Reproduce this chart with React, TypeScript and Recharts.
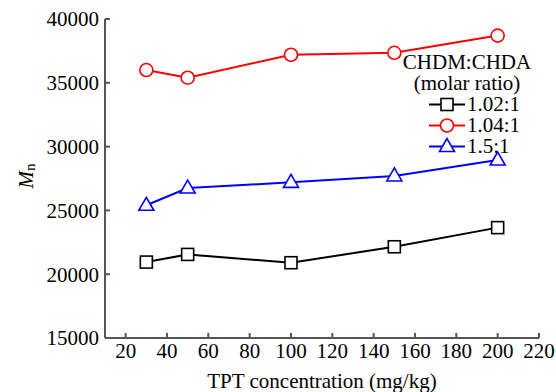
import { Label, Line, LineChart, XAxis, YAxis } from "recharts";

const FONT = "Liberation Serif, Times New Roman, serif";

const concentrations = [30, 50, 100, 150, 200];
const mn102 = [20950, 21550, 20900, 22150, 23650];
const mn104 = [36000, 35400, 37200, 37350, 38700];
const mn15 = [25400, 26750, 27200, 27700, 28950];
const xTicks = [20, 40, 60, 80, 100, 120, 140, 160, 180, 200, 220];
const yTicks = [15000, 20000, 25000, 30000, 35000, 40000];

const data = concentrations.map((c, i) => ({
  c,
  r102: mn102[i],
  r104: mn104[i],
  r15: mn15[i],
}));

const series = [
  { key: "r102", name: "1.02:1", color: "#000000", marker: "square" },
  { key: "r104", name: "1.04:1", color: "#ff0000", marker: "circle" },
  { key: "r15", name: "1.5:1", color: "#0000ff", marker: "triangle" },
];

const AXIS = "#555";

function Marker({ cx, cy, kind, color }: { cx: number; cy: number; kind: string; color: string }) {
  if (kind === "square") {
    return <rect x={cx - 6} y={cy - 6} width={12} height={12} fill="#fff" stroke={color} strokeWidth={1.6} />;
  }
  if (kind === "triangle") {
    return (
      <polygon
        points={`${cx},${cy - 8} ${cx - 7.5},${cy + 5} ${cx + 7.5},${cy + 5}`}
        fill="#fff"
        stroke={color}
        strokeWidth={1.6}
      />
    );
  }
  return <circle cx={cx} cy={cy} r={6.5} fill="#fff" stroke={color} strokeWidth={1.6} />;
}

// legend sits inside the plot, top right, drawn over the chart
function LegendBox() {
  return (
    <div
      style={{
        position: "absolute",
        left: 401,
        top: 52,
        fontFamily: FONT,
        fontSize: 21,
        color: "#000",
        lineHeight: "21px",
      }}
    >
      <div style={{ textAlign: "center", width: 132 }}>CHDM:CHDA</div>
      <div style={{ textAlign: "center", width: 132 }}>(molar ratio)</div>
      {series.map((s) => (
        <div key={s.key} style={{ display: "flex", alignItems: "center", marginLeft: 28 }}>
          <svg width={36} height={21}>
            <line x1={0} y1={10.5} x2={36} y2={10.5} stroke={s.color} strokeWidth={2} />
            <Marker cx={18} cy={10.5} kind={s.marker} color={s.color} />
          </svg>
          <span style={{ marginLeft: 2 }}>{s.name}</span>
        </div>
      ))}
    </div>
  );
}

const tickStyle = { fill: "#000", fontSize: 21, fontFamily: FONT };

export default function App() {
  return (
    <div style={{ position: "absolute", left: 0, top: 0, width: 556, height: 392, background: "#fff", fontFamily: FONT }}>
      <LineChart
        width={556}
        height={392}
        data={data}
        margin={{ top: 19, right: 17, bottom: 0, left: 0 }}
        style={{ fontFamily: FONT }}
      >
        <XAxis
          dataKey="c"
          type="number"
          domain={[10, 220]}
          ticks={xTicks}
          interval={0}
          height={54}
          tickSize={-5}
          tickMargin={10}
          stroke={AXIS}
          strokeWidth={2}
          tick={tickStyle}
        >
          <Label
            value="TPT concentration (mg/kg)"
            position="insideBottom"
            offset={4}
            style={{ fill: "#000", fontSize: 21, fontFamily: FONT }}
          />
        </XAxis>
        <XAxis xAxisId="top" orientation="top" dataKey="c" type="number" domain={[10, 220]} height={0} tick={false} tickLine={false} stroke={AXIS} strokeWidth={2} />
        <YAxis
          type="number"
          domain={[15000, 40000]}
          ticks={yTicks}
          interval={0}
          width={105}
          tickSize={-5}
          tickMargin={11}
          stroke={AXIS}
          strokeWidth={2}
          tick={tickStyle}
          label={{
            content: () => (
              <text
                x={33}
                y={176}
                transform="rotate(-90 33 176)"
                textAnchor="middle"
                fontFamily={FONT}
                fontSize={21}
                fill="#000"
              >
                <tspan fontStyle="italic">M</tspan>
                <tspan fontSize={15} dy={2}>n</tspan>
              </text>
            ),
          }}
        />
        <YAxis yAxisId="right" orientation="right" domain={[15000, 40000]} width={0} tick={false} tickLine={false} stroke={AXIS} strokeWidth={2} />
        {series.map((s) => (
          <Line
            key={s.key}
            dataKey={s.key}
            name={s.name}
            type="linear"
            stroke={s.color}
            strokeWidth={2}
            isAnimationActive={false}
            dot={(p: any) => <Marker key={`${s.key}-${p.index}`} cx={p.cx} cy={p.cy} kind={s.marker} color={s.color} />}
            activeDot={false}
          />
        ))}
      </LineChart>
      <LegendBox />
    </div>
  );
}
